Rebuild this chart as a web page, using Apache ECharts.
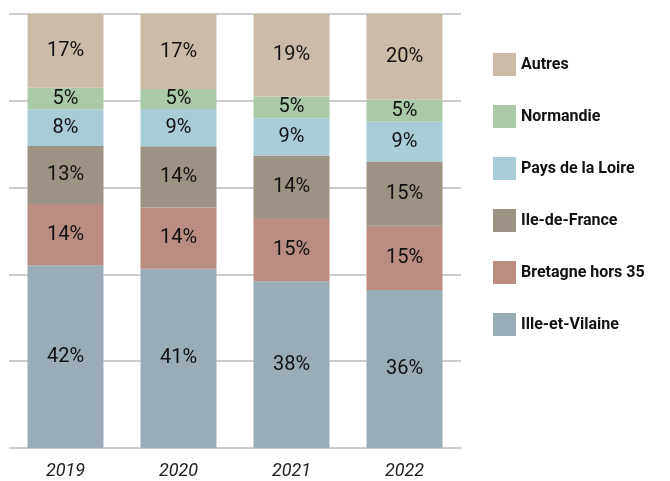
<!DOCTYPE html>
<html>
<head>
<meta charset="utf-8">
<script src="https://cdn.jsdelivr.net/npm/echarts@6/dist/echarts.min.js"></script>
<style>
	html, body { margin: 0; padding: 0; background: #fff; }
	#chart { width: 670px; height: 481px; }
</style>
</head>
<body>
<div id="chart"></div>
<script>
var years = ['2019', '2020', '2021', '2022'];
// parts en %, du bas vers le haut
var illeEtVilaine = [42.1, 41.3, 38.4, 36.4];
var bretagne = [14.1, 14.1, 14.6, 14.8];
var ileDeFrance = [13.4, 14.1, 14.4, 14.8];
var paysDeLaLoire = [8.4, 8.6, 8.6, 9.2];
var normandie = [5.0, 4.6, 5.0, 5.1];
var autres = [17.0, 17.3, 19.0, 19.7];

var font = 'Roboto, sans-serif';

function serie(name, data, color) {
	return {
		name: name,
		type: 'bar',
		stack: 'total',
		barWidth: 76,
		data: data,
		itemStyle: { color: color },
		label: {
			show: true,
			position: 'inside',
			color: '#111',
			fontFamily: font,
			fontSize: 20,
			formatter: function(p) {
				return Math.round(p.value) + '%';
			}
		}
	};
}

var chart = echarts.init(document.getElementById('chart'));
chart.setOption({
	animation: false,
	grid: { left: 9, top: 14, width: 452, height: 434 },
	legend: {
		orient: 'vertical',
		left: 488,
		top: 48,
		itemWidth: 23,
		itemHeight: 23,
		itemGap: 29,
		icon: 'rect',
		data: ['Autres', 'Normandie', 'Pays de la Loire', 'Ile-de-France', 'Bretagne hors 35', 'Ille-et-Vilaine'],
		textStyle: { fontFamily: font, fontSize: 16, fontWeight: 'bold', color: '#111' }
	},
	xAxis: {
		type: 'category',
		data: years,
		axisLine: { show: false },
		axisTick: { show: false },
		axisLabel: { fontFamily: font, fontStyle: 'italic', fontSize: 18, color: '#222', margin: 14 }
	},
	yAxis: {
		type: 'value',
		min: 0,
		max: 100,
		interval: 20,
		axisLabel: { show: false },
		axisLine: { show: false },
		axisTick: { show: false },
		splitLine: { lineStyle: { color: '#bbb', width: 1.5 } }
	},
	series: [
		serie('Ille-et-Vilaine', illeEtVilaine, '#9aacb5'),
		serie('Bretagne hors 35', bretagne, '#bb8d81'),
		serie('Ile-de-France', ileDeFrance, '#9c9384'),
		serie('Pays de la Loire', paysDeLaLoire, '#a9cdd7'),
		serie('Normandie', normandie, '#a9c9a9'),
		serie('Autres', autres, '#cbbca7')
	]
});
</script>
</body>
</html>
